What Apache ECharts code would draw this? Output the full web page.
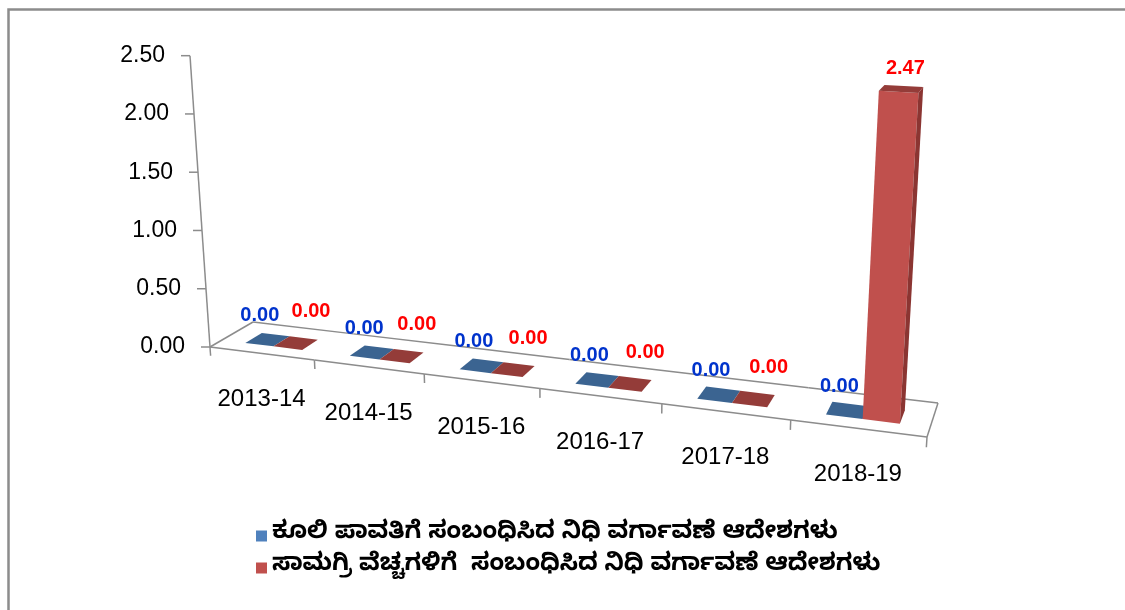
<!DOCTYPE html>
<html>
<head>
<meta charset="utf-8">
<script src="https://cdn.jsdelivr.net/npm/echarts@6/dist/echarts.min.js"></script>
<style>
  html, body { margin: 0; padding: 0; background: #fff; }
  #chart { width: 1125px; height: 610px; }
</style>
</head>
<body>
<div id="chart"></div>
<script>
var categories = ["2013-14", "2014-15", "2015-16", "2016-17", "2017-18", "2018-19"];
var wageValues = [0, 0, 0, 0, 0, 0];
var materialValues = [0, 0, 0, 0, 0, 2.47];
var yTicks = [0, 0.5, 1, 1.5, 2, 2.5];
var seriesNames = [
  "ಕೂಲಿ ಪಾವತಿಗೆ ಸಂಬಂಧಿಸಿದ ನಿಧಿ ವರ್ಗಾವಣೆ ಆದೇಶಗಳು",
  "ಸಾಮಗ್ರಿ ವೆಚ್ಚಗಳಿಗೆ  ಸಂಬಂಧಿಸಿದ ನಿಧಿ ವರ್ಗಾವಣೆ ಆದೇಶಗಳು"
];

var chart = echarts.init(document.getElementById("chart"));
var FONT = "'Liberation Sans', Arial, sans-serif";
var KN_FONT = "'Noto Sans Kannada', 'Noto Sans', sans-serif";
var LINE = "#8c8c8c";

// perspective floor: front-left, front-right, back-right, back-left
function makeFloor(P0, P1, P2, P3) {
  var dx1 = P1[0] - P2[0], dx2 = P3[0] - P2[0], dx3 = P0[0] - P1[0] + P2[0] - P3[0];
  var dy1 = P1[1] - P2[1], dy2 = P3[1] - P2[1], dy3 = P0[1] - P1[1] + P2[1] - P3[1];
  var den = dx1 * dy2 - dx2 * dy1;
  var g = (dx3 * dy2 - dx2 * dy3) / den, h = (dx1 * dy3 - dx3 * dy1) / den;
  var a = P1[0] - P0[0] + g * P1[0], b = P3[0] - P0[0] + h * P3[0], c = P0[0];
  var d = P1[1] - P0[1] + g * P1[1], e = P3[1] - P0[1] + h * P3[1], f = P0[1];
  return function (u, v) {
    var w = g * u + h * v + 1;
    return [(a * u + b * v + c) / w, (d * u + e * v + f) / w, w];
  };
}
var floor = makeFloor([210, 347], [927, 437], [938, 403], [253, 322]);
var VP = [592, 5910];      // vanishing point of the verticals
var FULL_H = 292;          // pixels of the full value axis at the front-left corner

function lift(p, hn) {
  var dx = p[0] - VP[0], dy = p[1] - VP[1];
  var L = Math.sqrt(dx * dx + dy * dy);
  var len = FULL_H * hn / p[2];
  return [p[0] + dx / L * len, p[1] + dy / L * len];
}

function norm(params, api, idx, val) {
  var cs = params.coordSys;
  var c = api.coord([idx, val]);
  var bw = api.size([1, 0])[0] / cs.width;
  return {
    uc: (c[0] - cs.x) / cs.width,
    bw: bw,
    hn: (cs.y + cs.height - c[1]) / cs.height
  };
}

function renderFloor(params, api) {
  var i = api.value(0);
  var n = norm(params, api, i, 0);
  var u0 = n.uc - n.bw / 2, u1 = n.uc + n.bw / 2;
  var kids = [];
  var fa = floor(u0, 0), fb = floor(u1, 0), ba = floor(u0, 1), bb = floor(u1, 1);
  var st = { stroke: LINE, lineWidth: 1.5 };
  kids.push({ type: "line", shape: { x1: fa[0], y1: fa[1], x2: fb[0], y2: fb[1] }, style: st });
  kids.push({ type: "line", shape: { x1: ba[0], y1: ba[1], x2: bb[0], y2: bb[1] }, style: st });
  var t0 = lift(fa, -0.03);
  kids.push({ type: "line", shape: { x1: fa[0], y1: fa[1], x2: t0[0], y2: t0[1] }, style: st });
  if (i === 0) {
    kids.push({ type: "line", shape: { x1: fa[0], y1: fa[1], x2: ba[0], y2: ba[1] }, style: st });
    var top = lift(fa, 1);
    kids.push({ type: "line", shape: { x1: fa[0], y1: fa[1], x2: top[0], y2: top[1] }, style: st });
  }
  if (i === categories.length - 1) {
    kids.push({ type: "line", shape: { x1: fb[0], y1: fb[1], x2: bb[0], y2: bb[1] }, style: st });
    var t1 = lift(fb, -0.03);
    kids.push({ type: "line", shape: { x1: fb[0], y1: fb[1], x2: t1[0], y2: t1[1] }, style: st });
  }
  var mid = floor(n.uc, 0);
  kids.push({
    type: "text",
    style: {
      text: categories[i], x: mid[0], y: mid[1] + 46,
      fill: "#000", fontSize: 24, fontFamily: FONT,
      align: "center", verticalAlign: "middle"
    }
  });
  return { type: "group", children: kids };
}

function renderYTick(params, api) {
  var t = api.value(1);
  var n = norm(params, api, 0, t);
  var p = lift(floor(0, 0), n.hn);
  return {
    type: "group",
    children: [
      { type: "line", shape: { x1: p[0] - 9, y1: p[1], x2: p[0], y2: p[1] }, style: { stroke: LINE, lineWidth: 1.5 } },
      {
        type: "text",
        style: {
          text: t.toFixed(2), x: p[0] - 25, y: p[1],
          fill: "#000", fontSize: 23, fontFamily: FONT,
          align: "right", verticalAlign: "middle"
        }
      }
    ]
  };
}

var V0 = 0.27, V1 = 0.66;
function barRenderer(f0, f1, colors, labelColor, labelShift) {
  return function (params, api) {
    var i = api.value(0), val = api.value(1);
    var n = norm(params, api, i, val);
    var start = n.uc - n.bw / 2;
    var u0 = start + f0 * n.bw, u1 = start + f1 * n.bw;
    var A = floor(u0, V0), B = floor(u1, V0), C = floor(u1, V1), D = floor(u0, V1);
    var A2 = lift(A, n.hn), B2 = lift(B, n.hn), C2 = lift(C, n.hn), D2 = lift(D, n.hn);
    var kids = [];
    if (n.hn > 0.001) {
      kids.push({ type: "polygon", shape: { points: [A, B, B2, A2].map(function (q) { return [q[0], q[1]]; }) }, style: { fill: colors[0] } });
      kids.push({ type: "polygon", shape: { points: [B, C, C2, B2].map(function (q) { return [q[0], q[1]]; }) }, style: { fill: colors[1] } });
    }
    kids.push({ type: "polygon", shape: { points: [A2, B2, C2, D2] }, style: { fill: colors[2] } });
    var lp = lift(floor((u0 + u1) / 2, 0.47), n.hn);
    var off = labelShift(n.hn);
    kids.push({
      type: "text", z2: 100,
      style: {
        text: val.toFixed(2), x: lp[0] + off[0], y: lp[1] + off[1],
        fill: labelColor, fontSize: 20, fontWeight: "bold", fontFamily: FONT,
        align: "center", verticalAlign: "middle"
      }
    });
    return { type: "group", children: kids };
  };
}

var option = {
  animation: false,
  backgroundColor: "#fff",
  grid: { left: 0, top: 0, width: 600, height: 300, show: false },
  xAxis: { type: "category", data: categories, show: false },
  yAxis: { type: "value", min: 0, max: 2.5, interval: 0.5, show: false },
  legend: {
    orient: "vertical",
    left: 256, top: 523, padding: 0,
    itemWidth: 11, itemHeight: 11, itemGap: 6,
    icon: "rect",
    selectedMode: false,
    data: seriesNames,
    textStyle: { fontSize: 24, fontWeight: "bold", color: "#000", fontFamily: KN_FONT, lineHeight: 26 }
  },
  graphic: [{
    type: "rect", left: 6, top: 7,
    shape: { width: 1200, height: 700 },
    style: { fill: "none", stroke: "#8c8c8c", lineWidth: 2.5 },
    silent: true
  }],
  series: [
    {
      type: "custom", name: "floor", silent: true,
      data: categories.map(function (c, i) { return [i, 0]; }),
      renderItem: renderFloor
    },
    {
      type: "custom", name: "yaxis", silent: true,
      data: yTicks.map(function (t) { return [0, t]; }),
      renderItem: renderYTick
    },
    {
      type: "custom", name: seriesNames[0], silent: true,
      itemStyle: { color: "#4F81BD" },
      data: wageValues.map(function (v, i) { return [i, v]; }),
      renderItem: barRenderer(0.23, 0.505, ["#4F81BD", "#385D8A", "#3B6491"], "#0033CC",
        function () { return [-8, -24]; })
    },
    {
      type: "custom", name: seriesNames[1], silent: true,
      itemStyle: { color: "#C0504D" },
      data: materialValues.map(function (v, i) { return [i, v]; }),
      renderItem: barRenderer(0.505, 0.78, ["#C0504D", "#8B3532", "#943C39"], "#FF0000",
        function (hn) { return [15 - 11 * hn, -31 + 11 * hn]; })
    }
  ]
};
chart.setOption(option);
window.addEventListener("resize", chart.resize);
</script>
</body>
</html>
